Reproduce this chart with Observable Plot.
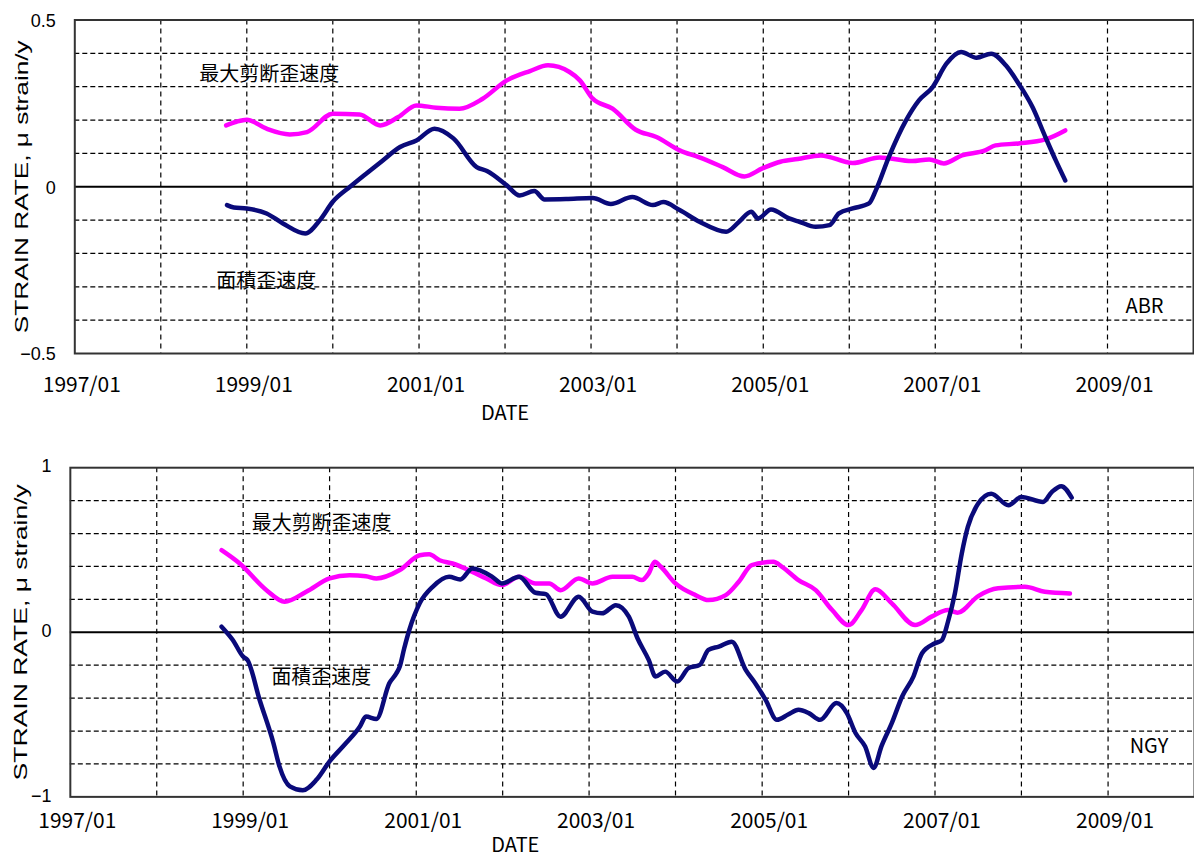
<!DOCTYPE html>
<html><head><meta charset="utf-8">
<script src="https://cdn.jsdelivr.net/npm/d3@7"></script>
<script src="https://cdn.jsdelivr.net/npm/@observablehq/plot@0.6"></script>
<style>
html,body{margin:0;padding:0;background:#fff;width:1194px;height:858px;overflow:hidden;}
#top,#bottom{position:absolute;left:0;}
#top{top:0;} #bottom{top:430px;}
</style></head><body>
<div id="top"></div><div id="bottom"></div>
<script>
// ---- tick labels / text ----
const xTickYears = [1997, 1999, 2001, 2003, 2005, 2007, 2009];
const gridYears = [1998, 1999, 2000, 2001, 2002, 2003, 2004, 2005, 2006, 2007, 2008, 2009];
const yLabel = "STRAIN RATE, \u03bc strain/y";
const xLabel = "DATE";
const shearLabel = "最大剪断歪速度";
const arealLabel = "面積歪速度";
const stations = ["ABR", "NGY"];
const abrYTicks = [-0.5, 0, 0.5];
const abrHGrid = [-0.4, -0.3, -0.2, -0.1, 0.1, 0.2, 0.3, 0.4];
const ngyYTicks = [-1, 0, 1];
const ngyHGrid = [-0.8, -0.6, -0.4, -0.2, 0.2, 0.4, 0.6, 0.8];

// ---- ABR: max shear strain rate (magenta) ----
const abrShearT = [1998.76,1998.88,1999.00,1999.23,1999.50,1999.70,2000.00,2000.31,2000.55,2000.76,2000.97,2001.20,2001.47,2001.74,2002.02,2002.29,2002.50,2002.75,2002.87,2003.02,2003.25,2003.52,2003.76,2004.03,2004.26,2004.53,2004.78,2004.99,2005.20,2005.40,2005.67,2006.04,2006.35,2006.73,2006.93,2007.10,2007.31,2007.58,2007.70,2007.97,2008.28,2008.51];
const abrShearV = [0.184,0.195,0.201,0.174,0.157,0.164,0.219,0.217,0.184,0.209,0.244,0.237,0.234,0.264,0.319,0.347,0.364,0.344,0.319,0.264,0.234,0.171,0.149,0.109,0.088,0.059,0.031,0.055,0.075,0.083,0.094,0.071,0.088,0.077,0.082,0.070,0.094,0.109,0.124,0.130,0.142,0.169];
// ---- ABR: areal strain rate (navy) ----
const abrArealT = [1998.77,1998.85,1999.00,1999.23,1999.42,1999.68,1999.85,2000.00,2000.20,2000.39,2000.58,2000.78,2000.97,2001.18,2001.40,2001.67,2001.79,2002.02,2002.17,2002.34,2002.46,2002.71,2003.02,2003.23,2003.48,2003.72,2003.84,2004.03,2004.26,2004.57,2004.72,2004.86,2004.94,2005.09,2005.30,2005.42,2005.61,2005.77,2005.88,2006.04,2006.23,2006.31,2006.46,2006.66,2006.81,2006.97,2007.13,2007.30,2007.48,2007.65,2007.82,2007.97,2008.13,2008.28,2008.40,2008.51];
const abrArealV = [-0.055,-0.062,-0.065,-0.080,-0.110,-0.140,-0.100,-0.045,0.000,0.040,0.079,0.119,0.139,0.174,0.145,0.059,0.047,0.004,-0.026,-0.013,-0.038,-0.037,-0.034,-0.052,-0.031,-0.055,-0.046,-0.070,-0.105,-0.135,-0.105,-0.075,-0.095,-0.068,-0.095,-0.105,-0.120,-0.115,-0.080,-0.065,-0.050,-0.010,0.089,0.199,0.259,0.299,0.369,0.404,0.387,0.399,0.364,0.309,0.239,0.149,0.079,0.019];

// ---- NGY: max shear strain rate (magenta) ----
const ngyShearT = [1998.75,1998.96,1999.27,1999.48,1999.73,2000.00,2000.23,2000.42,2000.54,2000.81,2001.04,2001.15,2001.27,2001.42,2001.65,2001.81,2001.99,2002.19,2002.38,2002.54,2002.67,2002.88,2003.04,2003.27,2003.50,2003.61,2003.69,2003.76,2003.83,2004.00,2004.23,2004.38,2004.58,2004.73,2004.88,2005.13,2005.23,2005.42,2005.62,2005.81,2006.00,2006.15,2006.31,2006.50,2006.77,2006.96,2007.15,2007.26,2007.50,2007.73,2008.04,2008.27,2008.56];
const ngyShearV = [0.499,0.418,0.256,0.186,0.246,0.327,0.347,0.341,0.327,0.378,0.468,0.474,0.438,0.418,0.367,0.327,0.287,0.337,0.297,0.297,0.256,0.327,0.297,0.337,0.337,0.317,0.358,0.428,0.398,0.297,0.226,0.196,0.226,0.307,0.408,0.428,0.398,0.317,0.256,0.135,0.044,0.135,0.261,0.176,0.044,0.095,0.135,0.119,0.220,0.267,0.276,0.246,0.236];
// ---- NGY: areal strain rate (navy) ----
const ngyArealT = [1998.75,1998.88,1999.00,1999.05,1999.19,1999.35,1999.42,1999.54,1999.69,1999.85,2000.00,2000.19,2000.35,2000.42,2000.54,2000.69,2000.77,2000.81,2000.86,2000.92,2001.04,2001.19,2001.38,2001.51,2001.65,2001.88,2001.99,2002.19,2002.38,2002.50,2002.67,2002.88,2003.04,2003.15,2003.31,2003.46,2003.56,2003.69,2003.77,2003.88,2004.02,2004.15,2004.28,2004.38,2004.50,2004.65,2004.81,2004.92,2005.04,2005.17,2005.30,2005.42,2005.54,2005.67,2005.86,2005.98,2006.08,2006.19,2006.29,2006.38,2006.50,2006.62,2006.75,2006.85,2007.00,2007.08,2007.15,2007.23,2007.31,2007.38,2007.50,2007.65,2007.85,2008.00,2008.25,2008.35,2008.46,2008.58];
const ngyArealV = [0.034,-0.047,-0.148,-0.168,-0.410,-0.673,-0.815,-0.936,-0.960,-0.895,-0.784,-0.673,-0.572,-0.512,-0.527,-0.309,-0.250,-0.208,-0.100,0.014,0.176,0.276,0.337,0.321,0.388,0.337,0.297,0.337,0.240,0.232,0.095,0.216,0.125,0.115,0.165,0.095,-0.036,-0.168,-0.269,-0.239,-0.299,-0.218,-0.198,-0.107,-0.087,-0.057,-0.228,-0.309,-0.410,-0.532,-0.500,-0.471,-0.491,-0.532,-0.430,-0.491,-0.612,-0.693,-0.824,-0.693,-0.552,-0.390,-0.269,-0.127,-0.067,-0.047,0.064,0.236,0.479,0.640,0.782,0.842,0.772,0.822,0.792,0.852,0.888,0.818];

// decimal year -> Date
function toDate(y) {
  const yr = Math.floor(y);
  const s = Date.UTC(yr, 0, 1), e = Date.UTC(yr + 1, 0, 1);
  return new Date(s + (y - yr) * (e - s));
}
const fmtY = d => d === 0 ? "0" : (d < 0 ? "\u2212" : "") + Math.abs(d);
const SHEAR = "#ff00ff", AREAL = "#0a0a7a";

function panel(cfg) {
  const shear = cfg.shearT.map((t, i) => ({date: toDate(t), v: cfg.shearV[i]}));
  const areal = cfg.arealT.map((t, i) => ({date: toDate(t), v: cfg.arealV[i]}));
  const svg = Plot.plot({
    width: cfg.width, height: cfg.height,
    marginTop: cfg.mt, marginBottom: cfg.mb, marginLeft: cfg.ml, marginRight: cfg.mr,
    style: {fontFamily: "'Noto Sans CJK JP', sans-serif", fontSize: "20px", background: "#fff", color: "#000"},
    x: {type: "utc", domain: [toDate(1997), toDate(2010)]},
    y: {domain: cfg.yDomain},
    marks: [
      Plot.ruleX(gridYears.map(toDate), {stroke: "#000", strokeWidth: 1.2, strokeDasharray: "5,4"}),
      Plot.ruleY(cfg.hGrid, {stroke: "#000", strokeWidth: 1.2, strokeDasharray: "5,3"}),
      Plot.ruleY([0], {stroke: "#000", strokeWidth: 2}),
      Plot.line(shear, {x: "date", y: "v", stroke: SHEAR, strokeWidth: 4.5, curve: "monotone-x"}),
      Plot.line(areal, {x: "date", y: "v", stroke: AREAL, strokeWidth: 4.5, curve: "monotone-x"}),
      Plot.frame({stroke: "#333", strokeWidth: 2}),
      Plot.axisX({ticks: xTickYears.map(toDate), tickFormat: d3.utcFormat("%Y/%m"), tickSize: 0,
        tickPadding: cfg.xPad, fontSize: 21, dx: 7, label: null}),
      Plot.axisY({ticks: cfg.yTicks, tickFormat: fmtY, tickSize: 0, tickPadding: 19, fontSize: 18,
        fontFamily: "'Liberation Sans', Arial, sans-serif", dy: cfg.yDy, label: null}),
      Plot.text([cfg.dateX], {x: d => toDate(d), frameAnchor: "bottom", text: () => xLabel,
        dy: cfg.dateDy, fontSize: 20, lineAnchor: "middle"}),
      Plot.text([0], {y: d => d, frameAnchor: "left", text: () => yLabel, rotate: -90, dx: cfg.ylDx,
        lineAnchor: "bottom", textAnchor: "middle", fontSize: 18, fontFamily: "'Liberation Sans', Arial, sans-serif"}),
      Plot.text([cfg.shearNote], {x: d => toDate(d[0]), y: d => d[1], text: () => shearLabel, textAnchor: "start", fontSize: 20, lineAnchor: "middle"}),
      Plot.text([cfg.arealNote], {x: d => toDate(d[0]), y: d => d[1], text: () => arealLabel, textAnchor: "start", fontSize: 20, lineAnchor: "middle"}),
      Plot.text([cfg.stationNote], {x: d => toDate(d[0]), y: d => d[1], text: () => cfg.station, textAnchor: "start", fontSize: 20, lineAnchor: "middle"})
    ]
  });
  d3.select(svg).selectAll("text").filter(function() { return this.textContent === yLabel; })
    .attr("textLength", cfg.ylLen).attr("lengthAdjust", "spacingAndGlyphs");
  return svg;
}

document.getElementById("top").append(panel({
  width: 1194, height: 430, mt: 19.5, mb: 77, ml: 74.3, mr: 1,
  yDomain: [-0.5, 0.5], yTicks: abrYTicks, hGrid: abrHGrid, yDy: 1,
  shearT: abrShearT, shearV: abrShearV, arealT: abrArealT, arealV: abrArealV,
  xPad: 24, dateX: 2002.0, dateDy: 60.5, ylDx: -47, ylLen: 293,
  shearNote: [1998.447, 0.337], arealNote: [1998.644, -0.285], stationNote: [2009.209, -0.36],
  station: stations[0]
}));
document.getElementById("bottom").append(panel({
  width: 1197, height: 428, mt: 37.3, mb: 60.7, ml: 70, mr: 0,
  yDomain: [-1, 1], yTicks: ngyYTicks, hGrid: ngyHGrid, yDy: -1,
  shearT: ngyShearT, shearV: ngyShearV, arealT: ngyArealT, arealV: ngyArealV,
  xPad: 16, dateX: 2002.146, dateDy: 48.7, ylDx: -43, ylLen: 297,
  shearNote: [1999.10, 0.659], arealNote: [1999.327, -0.277], stationNote: [2009.25, -0.692],
  station: stations[1]
}));
</script>
</body></html>
